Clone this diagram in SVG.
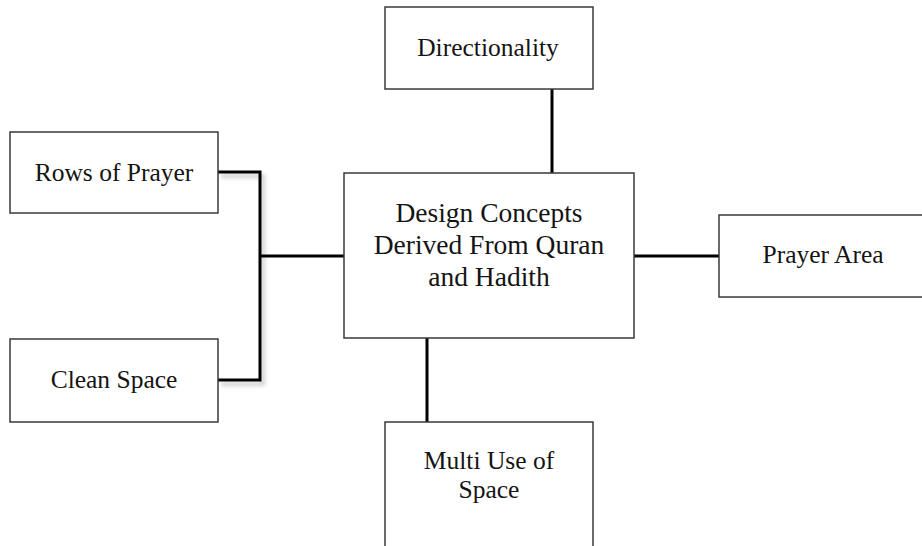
<svg xmlns="http://www.w3.org/2000/svg" width="922" height="546" viewBox="0 0 922 546">
<defs>
<filter id="sh" x="-20%" y="-20%" width="140%" height="140%">
<feGaussianBlur stdDeviation="2"/>
</filter>
</defs>
<style>
.box{fill:#fff;stroke:#3a3a3a;stroke-width:1.5}
.t{font-family:"Liberation Serif","Times New Roman",serif;font-size:25.5px;fill:#141414;text-anchor:middle}
.c{font-size:27.5px}
.ln{fill:none;stroke:#000;stroke-width:3}
.shd{fill:none;stroke:#999;stroke-width:3;filter:url(#sh);opacity:0.6}
</style>
<rect width="922" height="546" fill="#fff"/>
<g id="connectors">
<g transform="translate(3,4)">
<polyline class="shd" points="218,172 260,172 260,380 218,380"/>
<line class="shd" x1="260" y1="256" x2="344" y2="256"/>
<line class="shd" x1="552" y1="89" x2="552" y2="173"/>
<line class="shd" x1="427" y1="338" x2="427" y2="422"/>
<line class="shd" x1="634" y1="256" x2="719" y2="256"/>
</g>
<polyline class="ln" points="218,172 260,172 260,380 218,380"/>
<line class="ln" x1="260" y1="256" x2="344" y2="256"/>
<line class="ln" x1="552" y1="89" x2="552" y2="173"/>
<line class="ln" x1="427" y1="338" x2="427" y2="422"/>
<line class="ln" x1="634" y1="256" x2="719" y2="256"/>
</g>
<g id="center">
<rect class="box" x="344" y="173" width="290" height="165"/>
<text class="t c" x="489" y="222">Design Concepts</text>
<text class="t c" x="489" y="254">Derived From Quran</text>
<text class="t c" x="489" y="286">and Hadith</text>
</g>
<g id="directionality">
<rect class="box" x="385" y="7" width="208" height="82"/>
<text class="t" x="488" y="56">Directionality</text>
</g>
<g id="rows">
<rect class="box" x="10" y="132" width="208" height="81"/>
<text class="t" x="114" y="181">Rows of Prayer</text>
</g>
<g id="clean">
<rect class="box" x="10" y="339" width="208" height="83"/>
<text class="t" x="114" y="388">Clean Space</text>
</g>
<g id="prayerarea">
<rect class="box" x="719" y="215" width="210" height="82"/>
<text class="t" x="823" y="263">Prayer Area</text>
</g>
<g id="multiuse">
<rect class="box" x="385" y="422" width="208" height="130"/>
<text class="t" x="489" y="469">Multi Use of</text>
<text class="t" x="489" y="498">Space</text>
</g>
</svg>
